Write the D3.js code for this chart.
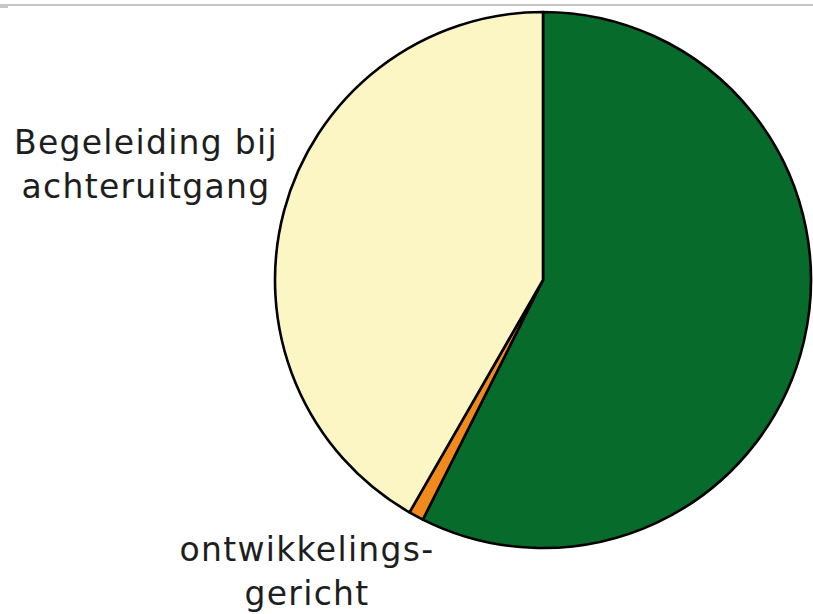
<!DOCTYPE html>
<html>
<head>
<meta charset="utf-8">
<script src="https://cdn.jsdelivr.net/npm/d3@7"></script>
<style>
  html, body { margin: 0; padding: 0; background: #fff; }
  svg { display: block; }
  .lbl { font-family: "DejaVu Sans", Verdana, sans-serif; font-size: 33px; fill: #1e1e1e; letter-spacing: 1.3px; }
</style>
</head>
<body>
<script>
// Share of care type (percent), clockwise from 12 o'clock
const categories = ["Ontwikkelingsgericht (groen)", "ontwikkelings-gericht", "Begeleiding bij achteruitgang"];
const values = [57.4, 0.9, 41.7];
const colors = ["#076b2b", "#f08a1c", "#fcf6c5"];

// Outside labels: lines of text per labelled slice
const labels = [
  { slice: 2, lines: ["Begeleiding bij", "achteruitgang"], x: 146, y: 154 },
  { slice: 1, lines: ["ontwikkelings-", "gericht"], x: 307, y: 561 }
];

const W = 813, H = 614;
const cx = 543, cy = 280, R = 268;

const svg = d3.select("body").append("svg").attr("width", W).attr("height", H);

// thin grey rule along the top edge
svg.append("rect").attr("x", 0).attr("y", 4).attr("width", W).attr("height", 2).attr("fill", "#c6c6c6");
svg.append("rect").attr("x", 0).attr("y", 6).attr("width", 8).attr("height", 2).attr("fill", "#c6c6c6");

const pie = d3.pie().sort(null).value(d => d);
const arc = d3.arc().innerRadius(0).outerRadius(R);

const g = svg.append("g").attr("transform", `translate(${cx},${cy})`);
g.selectAll("path")
  .data(pie(values))
  .join("path")
  .attr("d", arc)
  .attr("fill", (d, i) => colors[i])
  .attr("stroke", "#000")
  .attr("stroke-width", 2.6)
  .attr("stroke-linejoin", "round");

const lineH = 44;
labels.forEach(l => {
  const t = svg.append("text").attr("class", "lbl").attr("text-anchor", "middle");
  l.lines.forEach((s, i) => {
    t.append("tspan").attr("x", l.x).attr("y", l.y + i * lineH).text(s);
  });
});
</script>
</body>
</html>
